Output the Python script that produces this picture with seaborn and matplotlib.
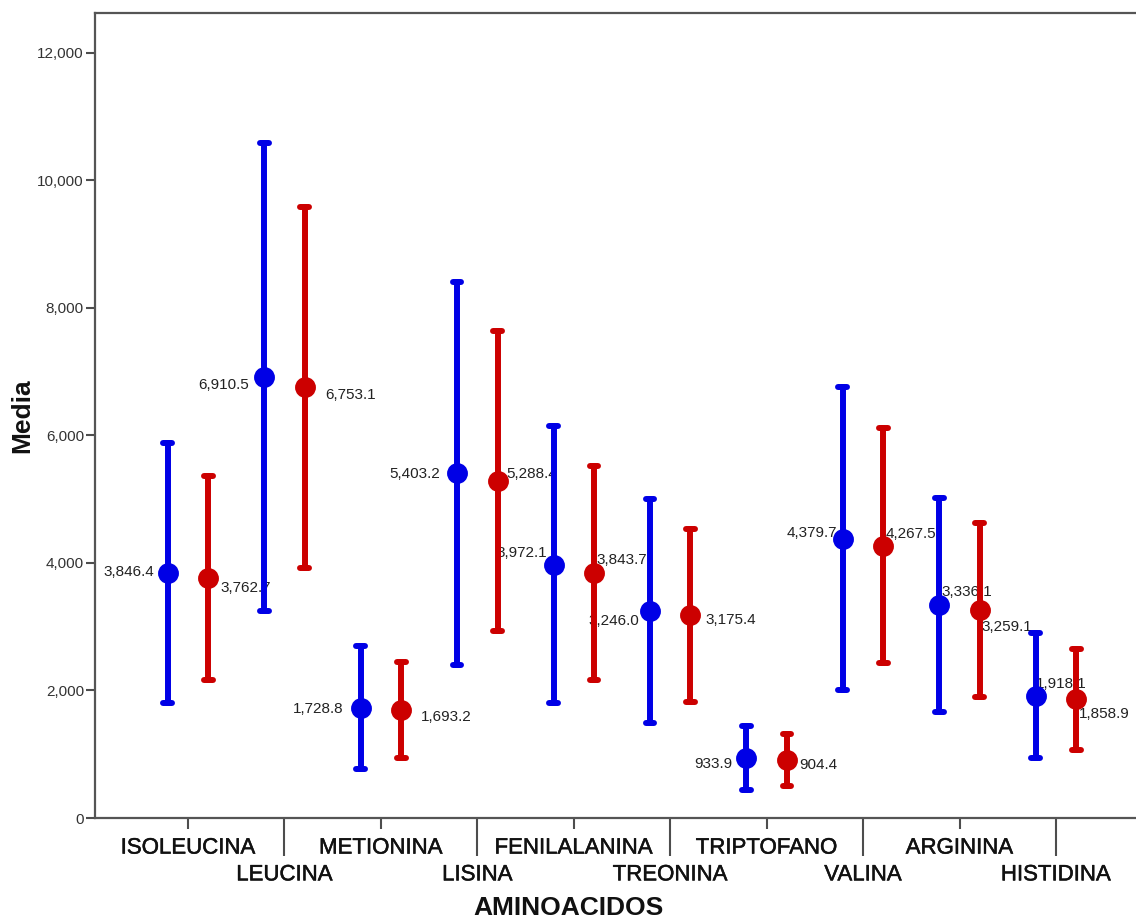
import numpy as np
import pandas as pd
import matplotlib
matplotlib.use("Agg")
import matplotlib.pyplot as plt
import matplotlib.patheffects as pe
import seaborn as sns

# ---------------- data ----------------
aminoacidos = ["ISOLEUCINA", "LEUCINA", "METIONINA", "LISINA", "FENILALANINA",
               "TREONINA", "TRIPTOFANO", "VALINA", "ARGININA", "HISTIDINA"]
grupos = ["Grupo 1", "Grupo 2"]

media_g1 = [3846.4, 6910.5, 1728.8, 5403.2, 3972.1, 3246.0, 933.9, 4379.7, 3336.1, 1918.1]
inf_g1 = [1805, 3245, 765, 2395, 1800, 1495, 432, 2000, 1660, 945]
sup_g1 = [5885, 10575, 2695, 8410, 6140, 4995, 1436, 6760, 5020, 2905]

media_g2 = [3762.7, 6753.1, 1693.2, 5288.4, 3843.7, 3175.4, 904.4, 4267.5, 3259.1, 1858.9]
inf_g2 = [2170, 3925, 935, 2930, 2170, 1815, 505, 2425, 1895, 1065]
sup_g2 = [5360, 9580, 2450, 7640, 5515, 4530, 1315, 6110, 4625, 2655]

yticks = [0, 2000, 4000, 6000, 8000, 10000, 12000]

# label placement (style only): alignment and pixel offsets (dx right, dy down)
lab_g1 = [("right", -14, -1), ("right", -15, 8), ("right", -17, 1), ("right", -17, 1),
          ("right", -6, -12), ("right", -11, 10), ("right", -14, 6), ("right", -6, -6),
          ("left", 2, -13), ("left", 0, -12)]
lab_g2 = [("left", 12, 10), ("left", 21, 8), ("left", 20, 7), ("left", 9, -7),
          ("left", 2, -13), ("left", 15, 5), ("left", 12, 5), ("left", 2, -12),
          ("left", 2, 17), ("left", 3, 15)]

colores = ["#0000E6", "#CC0000"]

# long-form table: low / mean / high per group -> median & full-range interval
rows = []
for g, lo, me, hi in [(grupos[0], inf_g1, media_g1, sup_g1), (grupos[1], inf_g2, media_g2, sup_g2)]:
    for a, l, m, h in zip(aminoacidos, lo, me, hi):
        for v in (l, m, h):
            rows.append({"AMINOACIDOS": a, "grupo": g, "valor": v})
df = pd.DataFrame(rows)

# ---------------- plot ----------------
sns.set_style("ticks")
plt.rcParams["font.family"] = ["Liberation Sans", "DejaVu Sans"]

W, H = 1136, 919
fig = plt.figure(figsize=(W / 100, H / 100), dpi=100)
ax_left, ax_right, ax_top, ax_bot = 95, 1149, 13.3, 818
ax = fig.add_axes([ax_left / W, (H - ax_bot) / H, (ax_right - ax_left) / W, (ax_bot - ax_top) / H])

sns.pointplot(data=df, x="AMINOACIDOS", y="valor", hue="grupo", order=aminoacidos,
              hue_order=grupos, palette=colores, estimator="median", errorbar=("pi", 100),
              dodge=0.42, linestyle="none", markers="o", markersize=13, capsize=0.09,
              err_kws={"linewidth": 4.3}, legend=False, ax=ax)

for coll in ax.collections:
    coll.set_zorder(4)
for ln in ax.lines:
    ln.set_zorder(3)

# value labels
for k, (medias, labs) in enumerate([(media_g1, lab_g1), (media_g2, lab_g2)]):
    off = -0.21 if k == 0 else 0.21
    for i, (m, (ha, dx, dy)) in enumerate(zip(medias, labs)):
        ax.annotate(f"{m:,.1f}", xy=(i + off, m), xytext=(dx, -dy), textcoords="offset pixels",
                    ha=ha, va="center", fontsize=11, color="#222222", zorder=1.5)

# axes
ax.set_xlim(-0.965, 9.965)
ax.set_ylim(0, (ax_bot - ax_top) / ((818 - 52.5) / 12) * 1000)
ax.set_yticks(yticks)
ax.set_yticklabels([f"{t:,}" for t in yticks])

ax.set_xticks(range(0, 10, 2), labels=aminoacidos[0::2])
ax.set_xticks(range(1, 10, 2), labels=aminoacidos[1::2], minor=True)
ax.tick_params(axis="x", which="major", length=7.9, width=1.5, pad=6.2, labelsize=16,
               colors="#4d4d4d", labelcolor="#111111")
ax.tick_params(axis="x", which="minor", length=27.4, width=1.5, pad=6.0, labelsize=16,
               colors="#4d4d4d", labelcolor="#111111")
ax.tick_params(axis="y", length=6.5, width=1.5, pad=1.5, labelsize=11,
               colors="#4d4d4d", labelcolor="#333333")
for lab in ax.get_xticklabels() + ax.get_xticklabels(minor=True):
    lab.set_path_effects([pe.withStroke(linewidth=0.35, foreground="#111111")])

for s in ["left", "top", "bottom"]:
    ax.spines[s].set_color("#555555")
    ax.spines[s].set_linewidth(1.6)
ax.spines["right"].set_visible(False)

ax.set_ylabel("Media", fontsize=19, fontweight="bold", color="#111111")
ax.yaxis.set_label_coords((22 - ax_left) / (ax_right - ax_left), 0.5)
ax.yaxis.label.set_va("center")
ax.set_xlabel("AMINOACIDOS", fontsize=19, fontweight="bold", color="#111111")
ax.xaxis.set_label_coords((568.5 - ax_left) / (ax_right - ax_left), (ax_bot - 915) / (ax_bot - ax_top))
ax.xaxis.label.set_va("baseline")

fig.savefig("out.png", dpi=100)
